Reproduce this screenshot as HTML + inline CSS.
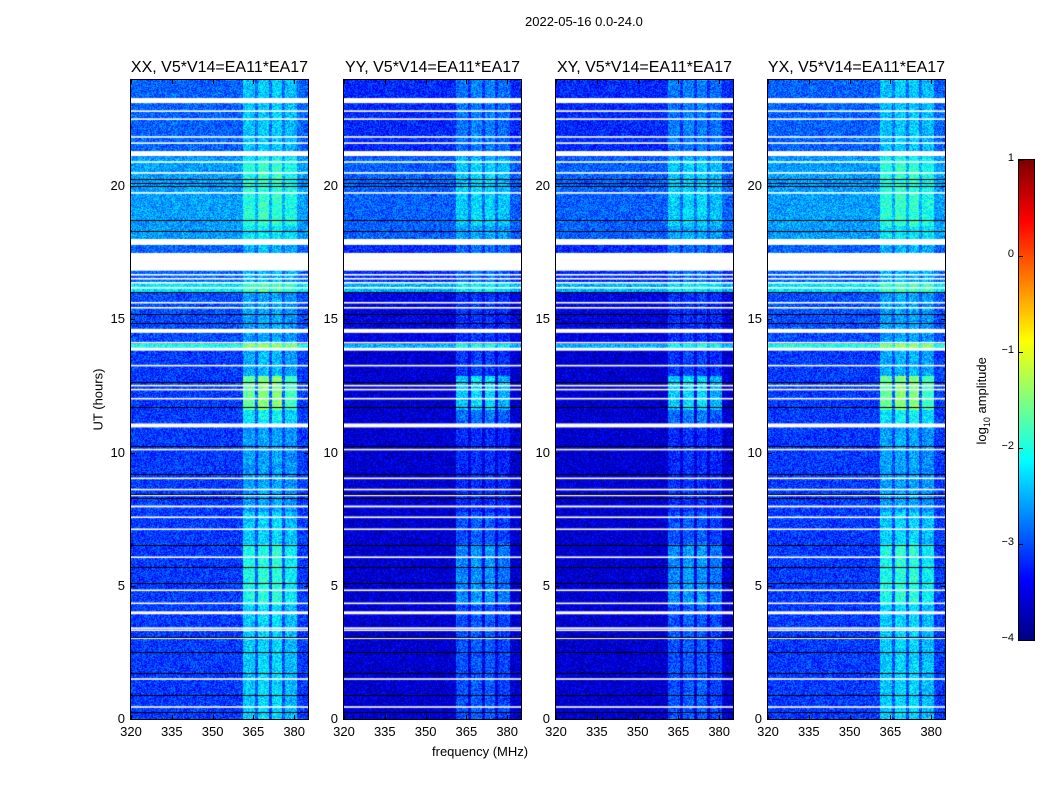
<!DOCTYPE html>
<html><head><meta charset="utf-8"><style>
body{margin:0;background:#fff;width:1050px;height:800px;position:relative;overflow:hidden;font-family:"Liberation Sans",sans-serif;}
.t{position:absolute;font-size:13px;color:#000;white-space:nowrap;}
.title{position:absolute;font-size:16px;white-space:nowrap;transform:translateX(-50%);}
canvas{position:absolute;}
</style></head><body>
<div class="t" style="left:525px;top:14px;">2022-05-16 0.0-24.0</div>
<div class="t" style="left:432px;top:744px;">frequency (MHz)</div>
<div class="t" style="left:62px;top:392px;transform:rotate(-90deg);transform-origin:center;width:72px;text-align:center;">UT (hours)</div>
<div class="t" style="left:938px;top:392px;transform:rotate(-90deg);width:90px;text-align:center;">log<sub style="font-size:9px">10</sub> amplitude</div>
<div id="root"></div>
<script>
const panelTitles=['XX, V5*V14=EA11*EA17','YY, V5*V14=EA11*EA17','XY, V5*V14=EA11*EA17','YX, V5*V14=EA11*EA17'];
const panelOffsets=[0,-0.5,-0.5,0];
const panelGains=[0.9,0.75,0.75,0.9];
const xTicks=[320,335,350,365,380];
const yTicks=[0,5,10,15,20];
const cbTicks=[1,0,-1,-2,-3,-4];
const rowLevels=[[0,13.9,-3.1],[13.9,14.1,-2.0],[14.1,16.0,-3.0],[16.0,16.4,-2.2],[16.4,17.8,-2.9],[17.8,21.1,-2.6],[21.1,24,-2.9]];
const bandTime=[[0,4.3,0.9],[4.3,6.6,1.3],[6.6,7.8,0.9],[7.8,11.0,0.6],[11.0,11.6,1.1],[11.6,12.9,1.8],[12.9,14.2,0.7],[14.2,16,0.5],[16,18.5,0.5],[18.5,21,0.8],[21,24,0.6]];
const bandFreq=[[361,365.5,0.9],[366.5,370.5,1.0],[371.5,375.5,1.0],[376.5,381,0.8],[365.5,366.5,0.15],[370.5,371.5,0.15],[375.5,376.5,0.15]];
const whiteBands=[[23.11,23.30],[22.78,22.84],[22.48,22.54],[21.81,21.87],[21.58,21.64],[21.12,21.31],[20.87,20.93],[20.46,20.52],[19.71,19.77],[17.79,18.01],[16.82,17.49],[16.64,16.70],[16.49,16.55],[16.34,16.40],[16.15,16.21],[15.59,15.65],[15.40,15.46],[14.49,14.64],[14.09,14.15],[13.82,13.93],[13.23,13.29],[12.48,12.54],[12.33,12.39],[11.99,12.05],[10.94,11.09],[10.08,10.14],[9.00,9.06],[8.58,8.64],[8.36,8.42],[7.94,8.01],[7.54,7.60],[7.09,7.15],[6.04,6.10],[4.80,4.86],[4.31,4.37],[3.93,4.04],[3.38,3.44],[3.30,3.36],[3.00,3.06],[1.47,1.53],[0.42,0.48]];
const blackLines=[20.26,20.11,20.0,18.73,18.31,16.03,15.21,14.87,12.66,11.69,10.26,9.18,8.46,8.28,6.52,5.69,5.09,3.07,2.51,1.72,0.90,0.26];

const PX=[131,344,556,768],TOP=80,W=177,H=639;
const fx=f=>(f-320)*2.72, hy=h=>H-h*26.65;
function jet(t){t=Math.max(0,Math.min(1,t));const c=x=>Math.max(0,Math.min(1,1.5-Math.abs(4*t-x)));return [c(3)*255,c(2)*255,c(1)*255];}
function seg(arr,v,d){for(const s of arr)if(v>=s[0]&&v<s[1])return s[2];return d;}
function hash(x,y){let n=(x*374761393+y*668265263)|0;n=(n^(n>>>13))*1274126177|0;return ((n^(n>>>16))&1023)/1023-0.5;}
const root=document.getElementById('root');
function el(tag,css,txt){const e=document.createElement(tag);e.style.cssText=css;if(txt!==undefined)e.textContent=txt;root.appendChild(e);return e;}
for(let p=0;p<4;p++){
  const cv=document.createElement('canvas');cv.width=W;cv.height=H;
  cv.style.cssText=`left:${PX[p]}px;top:${TOP}px;border:1px solid #000;margin:-1px;`;
  
  
  root.appendChild(cv);
  const ctx=cv.getContext('2d');const img=ctx.createImageData(W,H);
  for(let y=0;y<H;y++){const h=(H-y)/26.65;
    let base=seg(rowLevels,h,-3)+panelOffsets[p];
    if(p===1||p===2){if(h>16)base+=0.2;}
    const bt=seg(bandTime,h,0.5)*panelGains[p];
    for(let x=0;x<W;x++){const f=320+x/2.72;
      const v=base+seg(bandFreq,f,0)*bt+hash(x+p*1000,y)*0.8;
      const c=jet((v+4)/5);const i=(y*W+x)*4;img.data[i]=c[0];img.data[i+1]=c[1];img.data[i+2]=c[2];img.data[i+3]=255;}}
  ctx.putImageData(img,0,0);
  ctx.fillStyle='#fff';for(const b of whiteBands){const y0=hy(b[1]),y1=hy(b[0]);ctx.fillRect(0,y0,W,Math.max(1.5,y1-y0));}
  ctx.fillStyle='#000';for(const l of blackLines){ctx.fillRect(0,Math.round(hy(l)),W,1);}
  const t=el('div',`left:${PX[p]+W/2}px;top:59px;`,panelTitles[p]);t.className='title';
  
  
  for(const v of xTicks){const x=PX[p]+fx(v);
    const lb=el('div',`left:${x-12}px;top:724px;width:24px;text-align:center;`,v);lb.className='t';
    
    
    el('div',`position:absolute;left:${x}px;top:${TOP+H-4}px;width:1px;height:4px;background:#000`);
    el('div',`position:absolute;left:${x}px;top:${TOP}px;width:1px;height:4px;background:#000`);}
  for(const v of yTicks){const y=TOP+hy(v);
    const lb=el('div',`left:${PX[p]-30}px;top:${y-8}px;width:24px;text-align:right;`,v);lb.className='t';
    
    
    el('div',`position:absolute;left:${PX[p]}px;top:${y}px;width:4px;height:1px;background:#000`);
    el('div',`position:absolute;left:${PX[p]+W-4}px;top:${y}px;width:4px;height:1px;background:#000`);}
}
const cb=document.createElement('canvas');cb.width=15;cb.height=480;
cb.style.cssText='left:1019px;top:160px;border:1px solid #000;margin:-1px;';


root.appendChild(cb);
const cc=cb.getContext('2d');for(let y=0;y<480;y++){const c=jet(1-y/480);cc.fillStyle=`rgb(${c[0]|0},${c[1]|0},${c[2]|0})`;cc.fillRect(0,y,15,1);}
for(const v of cbTicks){const y=160+(1-v)*96;
  const lb=el('div',`left:990px;top:${y-8}px;width:24px;text-align:right;font-size:11px;`,v<0?'\u2212'+(-v):v);lb.className='t';
  
  
  el('div',`position:absolute;left:1019px;top:${y}px;width:4px;height:1px;background:#000`);}
</script>
</body></html>
